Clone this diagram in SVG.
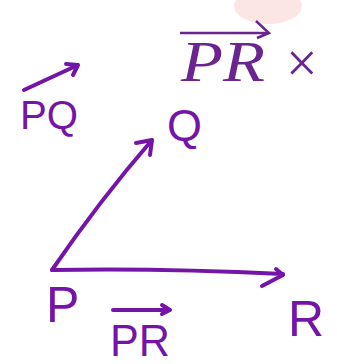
<svg xmlns="http://www.w3.org/2000/svg" width="337" height="364" viewBox="0 0 337 364">
<style>
.hw{fill:none;stroke:#7414a8;stroke-width:4;stroke-linecap:round;stroke-linejoin:round}
.hl{font-family:"Liberation Sans",Arial,sans-serif;fill:#7414a8}
.tx{font-family:"Liberation Serif","Times New Roman",serif;fill:#6a2590}
</style>
<rect width="337" height="364" fill="#ffffff"/>
<ellipse cx="268" cy="6" rx="34" ry="18" fill="#fce6e4"/>
<g id="title">
<text class="tx" x="181" y="81" font-size="58" font-style="italic" textLength="84" lengthAdjust="spacingAndGlyphs">PR</text>
<path d="M180 33 H268 M256 21 L269 33 L257 38" fill="none" stroke="#6a2590" stroke-width="2.5"/>
<text class="tx" x="286" y="82" font-size="56">×</text>
</g>
<g id="connectors">
<path class="hw" d="M52 270 Q100 200 152 140"/>
<path class="hw" d="M136 143 L152 140 L150 155"/>
<path class="hw" d="M52 270 Q160 268 283 274"/>
<path class="hw" d="M262 286 L283 275 L276 269"/>
<path class="hw" d="M24 90 L78 65 M66 64 L78 65 L73 75"/>
<path class="hw" d="M113 310 H170 M162 305 L170 310 L162 314"/>
</g>
<g id="label-PQ"><text class="hl" x="20" y="129" font-size="40" textLength="58" lengthAdjust="spacingAndGlyphs">PQ</text></g>
<g id="node-Q"><text class="hl" x="167" y="141" font-size="45">Q</text></g>
<g id="node-P"><text class="hl" x="46" y="322" font-size="50">P</text></g>
<g id="label-PR"><text class="hl" x="110" y="356" font-size="44" textLength="60" lengthAdjust="spacingAndGlyphs">PR</text></g>
<g id="node-R"><text class="hl" x="288" y="336" font-size="50">R</text></g>
</svg>
